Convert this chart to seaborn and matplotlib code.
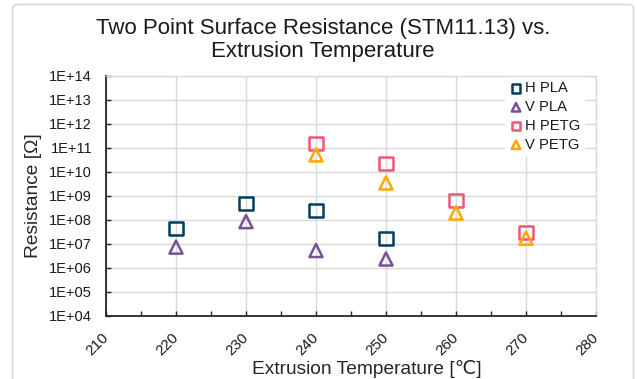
import math
import matplotlib
matplotlib.use("Agg")
import matplotlib.pyplot as plt
import matplotlib.ticker as mticker
from matplotlib.patches import FancyBboxPatch
from matplotlib.transforms import IdentityTransform
import seaborn as sns
import pandas as pd

# ---- data ----
series_names = ["H PLA", "V PLA", "H PETG", "V PETG"]
h_pla_temp = [220, 230, 240, 250]
h_pla_res = [4.2e7, 4.6e8, 2.4e8, 1.7e7]
v_pla_temp = [220, 230, 240, 250]
v_pla_res = [7.2e6, 8.3e7, 5.2e6, 2.3e6]
h_petg_temp = [240, 250, 260, 270]
h_petg_res = [1.45e11, 2.2e10, 6.2e8, 2.9e7]
v_petg_temp = [240, 250, 260, 270]
v_petg_res = [5.0e10, 3.4e9, 1.9e8, 1.7e7]
x_ticks = [210, 220, 230, 240, 250, 260, 270, 280]
y_ticks = [1e4, 1e5, 1e6, 1e7, 1e8, 1e9, 1e10, 1e11, 1e12, 1e13, 1e14]

colors = ["#003f5c", "#7a5195", "#ef5675", "#ffa600"]
markers = ["s", "^", "s", "^"]

sns.set_theme(style="white")
plt.rcParams["font.family"] = ["Liberation Sans", "DejaVu Sans"]
plt.rcParams["text.color"] = "#1a1a1a"

W, H = 637, 379
fig = plt.figure(figsize=(W / 100, H / 100), dpi=100)
fig.patch.set_facecolor("white")

# chart frame (rounded, light gray)
frame = FancyBboxPatch((12.5, -10), 621, 375 + 10 - 0.5,
                       boxstyle="round,pad=0,rounding_size=5",
                       transform=IdentityTransform(), facecolor="none",
                       edgecolor="#d9d9d9", linewidth=1.2)
fig.add_artist(frame)

ax_l, ax_r, ax_t, ax_b = 106, 596, 75.7, 315.7
ax = fig.add_axes([ax_l / W, 1 - ax_b / H, (ax_r - ax_l) / W, (ax_b - ax_t) / H])
ax.set_facecolor("none")

frames = []
for name, tx, ry in [("H PLA", h_pla_temp, h_pla_res), ("V PLA", v_pla_temp, v_pla_res),
                     ("H PETG", h_petg_temp, h_petg_res), ("V PETG", v_petg_temp, v_petg_res)]:
    frames.append(pd.DataFrame({"Temperature": tx, "Resistance": ry, "Series": name}))
df = pd.concat(frames, ignore_index=True)

for name, col, mk in zip(series_names, colors, markers):
    sub = df[df["Series"] == name]
    sns.scatterplot(data=sub, x="Temperature", y="Resistance", ax=ax,
                    marker=mk, s=88, facecolor="none", edgecolor=col,
                    linewidth=1.8, label=name, zorder=3)

ax.set_yscale("log")
ax.set_ylim(1e4, 1e14)
ax.set_xlim(210, 280)
ax.set_yticks(y_ticks)
ax.yaxis.set_minor_locator(mticker.NullLocator())
ax.yaxis.set_major_formatter(mticker.FuncFormatter(
    lambda v, p: "1E+%02d" % round(math.log10(v))))
ax.set_xticks(x_ticks)
ax.xaxis.set_minor_locator(mticker.MultipleLocator(5))

ax.grid(True, which="major", color="#d9d9d9", linewidth=1.0, zorder=0)
ax.set_axisbelow(True)
for s in ["top", "right"]:
    ax.spines[s].set_color("#d9d9d9")
    ax.spines[s].set_linewidth(1.0)
for s in ["left", "bottom"]:
    ax.spines[s].set_color("#262626")
    ax.spines[s].set_linewidth(1.3)

ax.tick_params(axis="y", which="major", direction="in", length=3.5, width=1.0,
               color="#262626", labelsize=10.5, labelcolor="#1a1a1a", pad=10,
               left=True)
ax.tick_params(axis="x", which="both", direction="in", length=3.5, width=1.0,
               color="#262626", labelsize=10.8, labelcolor="#1a1a1a", pad=14,
               bottom=True)
for lab in ax.get_xticklabels():
    lab.set_rotation(45)
    lab.set_ha("right")
    lab.set_va("center")
    lab.set_rotation_mode("anchor")

ax.set_xlabel("Extrusion Temperature [\u2103]", fontsize=13.8, va="center")
ax.set_ylabel("Resistance [\u03a9]", fontsize=13.8, va="center")
ax.xaxis.set_label_coords((367 - ax_l) / (ax_r - ax_l), -(369 - ax_b) / (ax_b - ax_t))
ax.yaxis.set_label_coords((34 - ax_l) / (ax_r - ax_l), 0.5)

fig.text(323 / W, 1 - 18 / H,
         "Two Point Surface Resistance (STM11.13) vs.\nExtrusion Temperature",
         ha="center", va="top", fontsize=16, linespacing=1.1)

leg = ax.legend(loc="upper left", bbox_to_anchor=(505 / W, 1 - 77 / H),
                bbox_transform=fig.transFigure, frameon=True, fancybox=False,
                facecolor="white", edgecolor="none", framealpha=1,
                fontsize=10.6, borderpad=0.3, handletextpad=0.15,
                handlelength=0.9, labelspacing=0.32, markerscale=0.65,
                borderaxespad=0)

fig.savefig("out.png", dpi=100)
